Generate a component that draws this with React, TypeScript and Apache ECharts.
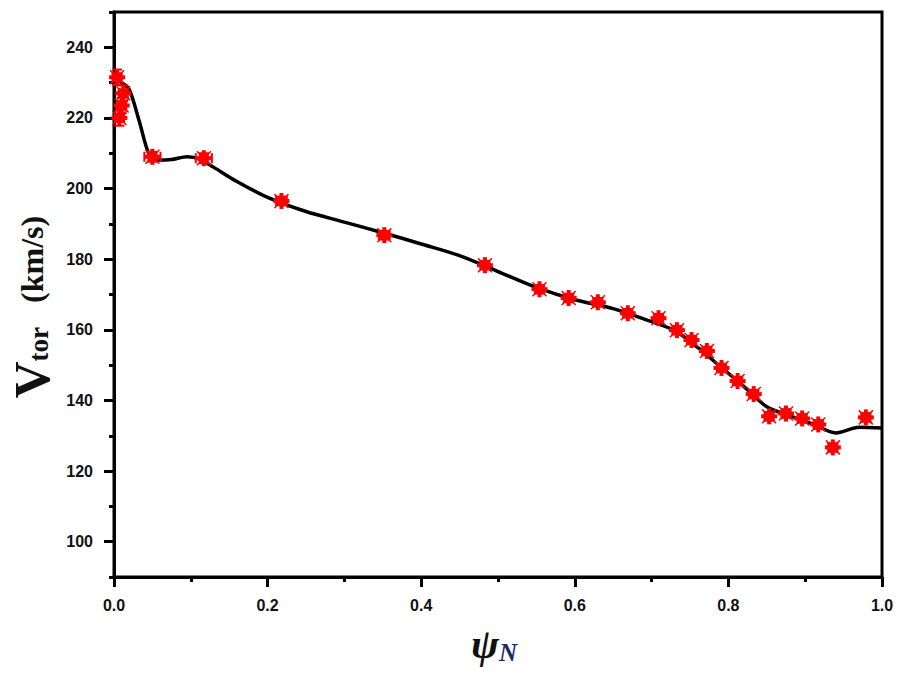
import React, { useEffect, useRef } from "react";
import * as echarts from "echarts";

// Fitted curve (black line)
const curveX = [0, 0.01, 0.02, 0.033, 0.046, 0.057, 0.075, 0.095, 0.112, 0.13, 0.16, 0.2, 0.25, 0.3, 0.35, 0.4, 0.45, 0.5, 0.55, 0.6, 0.65, 0.7, 0.73, 0.76, 0.79, 0.82, 0.85, 0.88, 0.91, 0.94, 0.97, 1.0];
const curveY = [231, 230, 228, 219, 209.5, 208, 208.2, 209, 208.3, 206, 202, 197.5, 193.5, 190.5, 187.5, 184.3, 181, 176.5, 172, 168.5, 166, 162.3, 159.8, 155, 149.5, 144, 138.2, 135.6, 133.3, 130.8, 132.4, 132.2];

// Measured points (red asterisks with error bars)
const ptX = [0.004, 0.012, 0.01, 0.007, 0.05, 0.117, 0.218, 0.352, 0.483, 0.554, 0.592, 0.63, 0.669, 0.709, 0.733, 0.752, 0.772, 0.791, 0.812, 0.833, 0.853, 0.875, 0.896, 0.917, 0.936, 0.979];
const ptY = [231.5, 227, 223.5, 220, 209, 208.6, 196.5, 186.8, 178.3, 171.5, 169, 167.8, 164.7, 163.3, 159.9, 157.1, 154, 149.2, 145.5, 141.8, 135.5, 136.3, 134.9, 133.2, 126.7, 135.2];
const ptXErr = [0.006, 0.006, 0.006, 0.006, 0.0105, 0.0105, 0.007, 0.007, 0.006, 0.006, 0.006, 0.006, 0.006, 0.006, 0.006, 0.006, 0.006, 0.006, 0.006, 0.006, 0.006, 0.006, 0.006, 0.006, 0.006, 0.006];
const ptYErr = [2.2, 2.2, 2.2, 2.2, 1.4, 1.4, 1.2, 1.2, 1.2, 1.2, 1.2, 1.2, 1.2, 1.2, 1.2, 1.2, 1.2, 1.2, 1.2, 1.2, 1.2, 1.2, 1.2, 1.2, 1.2, 1.2];

// Axis ticks
const xTickInterval = 0.2;
const yMajorTicks = [100, 120, 140, 160, 180, 200, 220, 240];
const yMinorTicks = [90, 110, 130, 150, 170, 190, 210, 230, 250];

const LABEL_FONT = "'Liberation Sans', Arial, sans-serif";
const SERIF = "'Liberation Serif', 'Times New Roman', serif";
const RED = "#ff0000";

export default function App() {
  const ref = useRef<HTMLDivElement>(null);
  useEffect(() => {
    if (!ref.current) return;
    const chart = echarts.init(ref.current, null, { renderer: "svg" });
    const axisLine = { show: true, lineStyle: { color: "#000", width: 3 } };
    const labelStyle = { fontFamily: LABEL_FONT, fontWeight: "bold" as const, fontSize: 16, color: "#111" };
    const option: any = {
      animation: false,
      backgroundColor: "#fff",
      grid: { left: 114, right: 20, top: 12, bottom: 99, show: true, borderColor: "#000", borderWidth: 3, backgroundColor: "transparent" },
      xAxis: {
        type: "value",
        min: 0,
        max: 1,
        interval: xTickInterval,
        axisLine,
        axisTick: { show: true, length: 10, lineStyle: { color: "#000", width: 3 } },
        minorTick: { show: true, splitNumber: 2, length: 5, lineStyle: { color: "#000", width: 3 } },
        splitLine: { show: false },
        minorSplitLine: { show: false },
        axisLabel: { ...labelStyle, margin: 20, formatter: (v: number) => v.toFixed(1) },
      },
      yAxis: [
        {
          type: "value",
          min: 90,
          max: 250,
          axisLine,
          axisTick: { show: true, customValues: yMajorTicks, length: 10, lineStyle: { color: "#000", width: 3 } },
          axisLabel: { ...labelStyle, margin: 21, customValues: yMajorTicks },
          splitLine: { show: false },
        },
        {
          type: "value",
          min: 90,
          max: 250,
          position: "left",
          axisLine: { show: false },
          axisTick: { show: true, customValues: yMinorTicks, length: 5, lineStyle: { color: "#000", width: 3 } },
          axisLabel: { show: false },
          splitLine: { show: false },
        },
      ],
      graphic: [
        {
          type: "text",
          x: 32,
          y: 307,
          rotation: Math.PI / 2,
          style: {
            text: "{v|V}{s|tor}{u|   (km/s)}",
            align: "center",
            verticalAlign: "middle",
            rich: {
              v: { fontFamily: SERIF, fontWeight: "bold", fontSize: 51, fill: "#111", lineHeight: 40 },
              s: { fontFamily: SERIF, fontWeight: "bold", fontSize: 27, fill: "#111", verticalAlign: "bottom", lineHeight: 24 },
              u: { fontFamily: SERIF, fontWeight: "bold", fontSize: 32, fill: "#111", lineHeight: 32 },
            },
          },
        },
        {
          type: "text",
          x: 494,
          y: 644,
          style: {
            text: "{p|ψ}{n|N}",
            align: "center",
            verticalAlign: "middle",
            rich: {
              p: { fontFamily: SERIF, fontStyle: "italic", fontWeight: "bold", fontSize: 42, fill: "#111", lineHeight: 42 },
              n: { fontFamily: SERIF, fontStyle: "italic", fontWeight: "bold", fontSize: 25, fill: "#1a2a6a", verticalAlign: "bottom", lineHeight: 22 },
            },
          },
        },
      ],
      series: [
        {
          type: "line",
          data: curveX.map((x, i) => [x, curveY[i]]),
          smooth: 0.3,
          showSymbol: false,
          symbol: "none",
          lineStyle: { color: "#000", width: 3.5 },
          z: 2,
        },
        {
          type: "custom",
          z: 3,
          clip: false,
          encode: { x: 0, y: 1 },
          data: ptX.map((x, i) => [x, ptY[i], ptXErr[i], ptYErr[i]]),
          renderItem: (params: any, api: any) => {
            const x = api.value(0);
            const y = api.value(1);
            const xe = api.value(2);
            const ye = api.value(3);
            const c = api.coord([x, y]);
            const l = api.coord([x - xe, y]);
            const r = api.coord([x + xe, y]);
            const t = api.coord([x, y + ye]);
            const b = api.coord([x, y - ye]);
            const cap = 5;
            const ls = { stroke: RED, lineWidth: 2 };
            const children: any[] = [
              { type: "line", shape: { x1: l[0], y1: c[1], x2: r[0], y2: c[1] }, style: ls },
              { type: "line", shape: { x1: l[0], y1: c[1] - cap, x2: l[0], y2: c[1] + cap }, style: ls },
              { type: "line", shape: { x1: r[0], y1: c[1] - cap, x2: r[0], y2: c[1] + cap }, style: ls },
              { type: "line", shape: { x1: c[0], y1: t[1], x2: c[0], y2: b[1] }, style: ls },
              { type: "line", shape: { x1: c[0] - cap, y1: t[1], x2: c[0] + cap, y2: t[1] }, style: ls },
              { type: "line", shape: { x1: c[0] - cap, y1: b[1], x2: c[0] + cap, y2: b[1] }, style: ls },
              { type: "line", shape: { x1: c[0] - 7, y1: c[1] - 7, x2: c[0] + 7, y2: c[1] + 7 }, style: { stroke: RED, lineWidth: 1.5 } },
              { type: "line", shape: { x1: c[0] - 7, y1: c[1] + 7, x2: c[0] + 7, y2: c[1] - 7 }, style: { stroke: RED, lineWidth: 1.5 } },
              { type: "rect", shape: { x: c[0] - 5, y: c[1] - 5, width: 10, height: 10 }, style: { fill: RED } },
              { type: "rect", shape: { x: c[0] - 8, y: c[1] - 2, width: 16, height: 4 }, style: { fill: RED } },
              { type: "rect", shape: { x: c[0] - 2, y: c[1] - 8, width: 4, height: 16 }, style: { fill: RED } },
            ];
            return { type: "group", children };
          },
        },
      ],
    };
    chart.setOption(option);
    return () => chart.dispose();
  }, []);
  return <div ref={ref} style={{ position: "fixed", left: 0, top: 0, width: 902, height: 676 }} />;
}
